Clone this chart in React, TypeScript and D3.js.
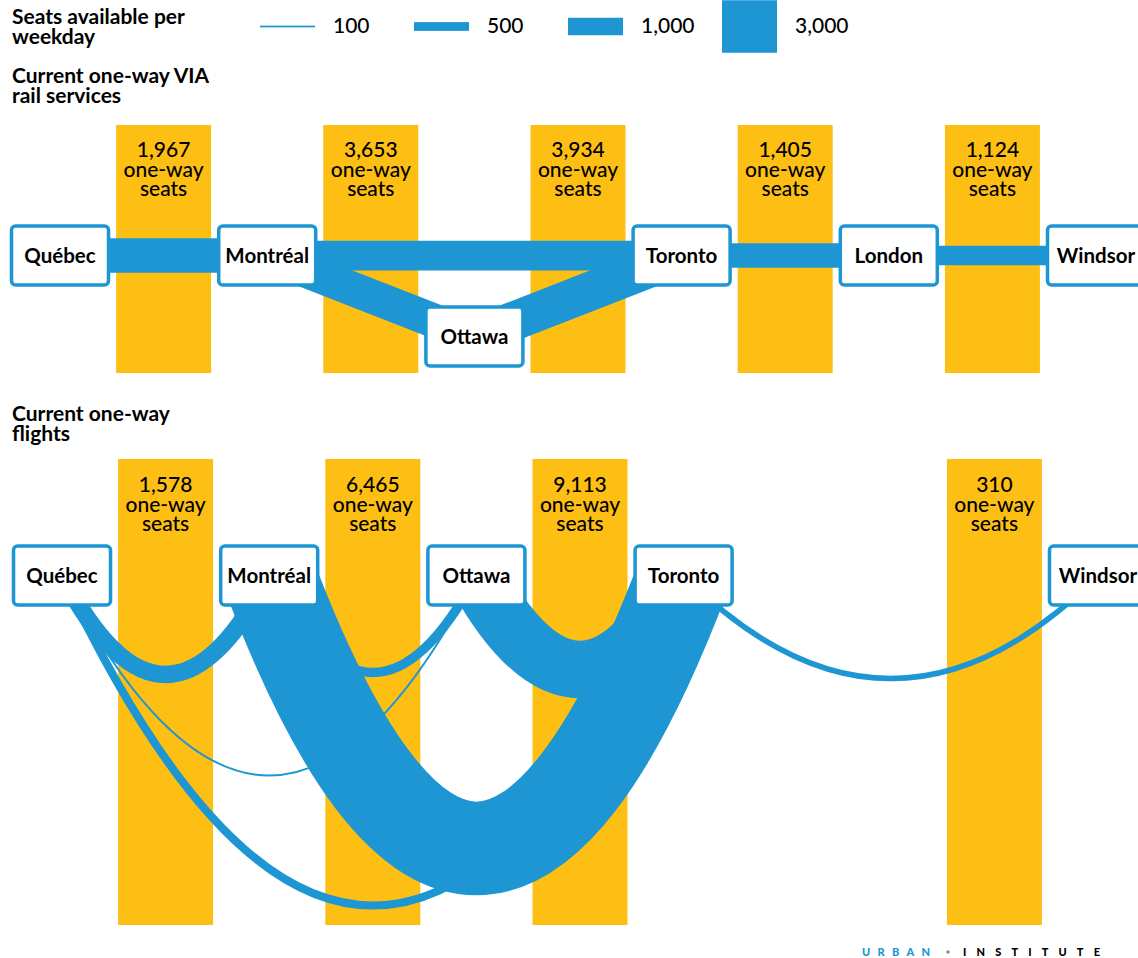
import React from "react";
import * as d3 from "d3";

// ---------- data ----------
const cities = ["Québec", "Montréal", "Ottawa", "Toronto", "London", "Windsor"];

const legendValues = [100, 500, 1000, 3000];
const legendLabels = ["100", "500", "1,000", "3,000"];

// one-way seats in each corridor gap (between consecutive cities)
const railGapSeats: (number | null)[] = [1967, 3653, 3934, 1405, 1124];
const flightGapSeats: (number | null)[] = [1578, 6465, 9113, null, 310];

// rail links
const railNodes = ["Québec", "Montréal", "Ottawa", "Toronto", "London", "Windsor"];
const railSources = ["Québec", "Montréal", "Montréal", "Ottawa", "Toronto", "London"];
const railTargets = ["Montréal", "Toronto", "Ottawa", "Toronto", "London", "Windsor"];
const railSeats = [1967, 1700, 1953, 2234, 1405, 1124];

// flight links
const flightNodes = ["Québec", "Montréal", "Ottawa", "Toronto", "Windsor"];
const flightSources = ["Québec", "Québec", "Québec", "Montréal", "Montréal", "Ottawa", "Toronto"];
const flightTargets = ["Montréal", "Ottawa", "Toronto", "Ottawa", "Toronto", "Toronto", "Windsor"];
const flightSeats = [1000, 108, 470, 540, 5347, 3296, 310];

// ---------- layout ----------
const W = 1138;
const H = 958;
const BLUE = "#1d96d3";
const YELLOW = "#fdbf14";
const FONT = "Lato, 'Open Sans', sans-serif";

const BOX_W = 97;
const BOX_H = 59;
const BAR_W = 95;

const RAIL_Y = 255.5;
const RAIL_LOW_Y = 336.5; // Ottawa sits below the rail line
const FLIGHT_Y = 575.5;

// arc sag (depth below node centre) for each flight link, layout only
const arcDepth: Record<string, number> = {
  "Québec-Montréal": 99,
  "Québec-Ottawa": 200,
  "Québec-Toronto": 330,
  "Montréal-Ottawa": 97,
  "Montréal-Toronto": 273,
  "Ottawa-Toronto": 94,
  "Toronto-Windsor": 103,
};

export default function App() {
  const xRail = d3.scalePoint<string>().domain(cities).range([60, 1096]);
  const xFlight = d3.scalePoint<string>().domain(cities).range([62, 1098]);
  const wScale = d3.scaleLinear().domain([0, 3000]).range([0, 52.5]);

  const railY = (c: string) => (c === "Ottawa" ? RAIL_LOW_Y : RAIL_Y);

  const gapCenters = (x: d3.ScalePoint<string>) =>
    d3.pairs(cities).map(([a, b]) => ((x(a) as number) + (x(b) as number)) / 2);

  const railGaps = gapCenters(xRail);
  const flightGaps = gapCenters(xFlight);

  const legendX = d3.scalePoint<number>().domain(legendValues).range([260, 722]);

  const fmt = d3.format(",");

  const renderBox = (cx: number, cy: number, label: string, key: string) => (
    <g key={key}>
      <rect
        x={cx - BOX_W / 2}
        y={cy - BOX_H / 2}
        width={BOX_W}
        height={BOX_H}
        rx={4}
        fill="#fff"
        stroke={BLUE}
        strokeWidth={3.5}
      />
      <text x={cx} y={cy + 7} textAnchor="middle" fontSize={20.5} fontWeight={700} fill="#000">
        {label}
      </text>
    </g>
  );

  const renderGapLabel = (cx: number, top: number, v: number, key: string) => (
    <text key={key} textAnchor="middle" fontSize={21} fontWeight={500} fill="#000">
      <tspan x={cx} y={top}>{fmt(v)}</tspan>
      <tspan x={cx} y={top + 19.5}>one-way</tspan>
      <tspan x={cx} y={top + 39}>seats</tspan>
    </text>
  );

  const flightPath = (s: string, t: string) => {
    const x1 = xFlight(s) as number;
    const x2 = xFlight(t) as number;
    const d = arcDepth[`${s}-${t}`];
    const p = d3.path();
    p.moveTo(x1, FLIGHT_Y);
    p.quadraticCurveTo((x1 + x2) / 2, FLIGHT_Y + 2 * d, x2, FLIGHT_Y);
    return p.toString();
  };

  return (
    <svg
      width={W}
      height={H}
      style={{ position: "absolute", left: 0, top: 0, background: "#fff" }}
      fontFamily={FONT}
    >
      {/* legend */}
      <text fontSize={21} fontWeight={700} fill="#000">
        <tspan x={12} y={24}>Seats available per</tspan>
        <tspan x={12} y={44}>weekday</tspan>
      </text>
      {legendValues.map((v, i) => {
        const x0 = legendX(v) as number;
        const h = wScale(v);
        return (
          <g key={`lg${v}`}>
            <rect x={x0} y={26.5 - h / 2} width={55} height={h} fill={BLUE} />
            <text x={x0 + 73} y={33} fontSize={21} fontWeight={500} fill="#000">
              {legendLabels[i]}
            </text>
          </g>
        );
      })}

      {/* rail section */}
      <text fontSize={21} fontWeight={700} fill="#000">
        <tspan x={12} y={83}>Current one-way VIA</tspan>
        <tspan x={12} y={103}>rail services</tspan>
      </text>
      {railGapSeats.map((v, i) =>
        v == null ? null : (
          <rect key={`rb${i}`} x={railGaps[i] - BAR_W / 2} y={125} width={BAR_W} height={248} fill={YELLOW} />
        )
      )}
      {railGapSeats.map((v, i) => (v == null ? null : renderGapLabel(railGaps[i], 157, v, `rl${i}`)))}
      {railSources.map((s, i) => {
        const t = railTargets[i];
        return (
          <line
            key={`rk${i}`}
            x1={xRail(s) as number}
            y1={railY(s)}
            x2={xRail(t) as number}
            y2={railY(t)}
            stroke={BLUE}
            strokeWidth={wScale(railSeats[i])}
          />
        );
      })}
      {railNodes.map((c) => renderBox(xRail(c) as number, railY(c), c, `rn${c}`))}

      {/* flights section */}
      <text fontSize={21} fontWeight={700} fill="#000">
        <tspan x={12} y={421}>Current one-way</tspan>
        <tspan x={12} y={441}>flights</tspan>
      </text>
      {flightGapSeats.map((v, i) =>
        v == null ? null : (
          <rect key={`fb${i}`} x={flightGaps[i] - BAR_W / 2} y={459} width={BAR_W} height={466} fill={YELLOW} />
        )
      )}
      {flightGapSeats.map((v, i) => (v == null ? null : renderGapLabel(flightGaps[i], 492, v, `fl${i}`)))}
      {flightSources.map((s, i) => (
        <path
          key={`fk${i}`}
          d={flightPath(s, flightTargets[i])}
          fill="none"
          stroke={BLUE}
          strokeWidth={wScale(flightSeats[i])}
        />
      ))}
      {flightNodes.map((c) => renderBox(xFlight(c) as number, FLIGHT_Y, c, `fn${c}`))}

      {/* logo */}
      <g fontSize={11} fontWeight={900}>
        <text x={862} y={956} fill={BLUE} textLength={68} lengthAdjust="spacing">URBAN</text>
        <circle cx={948} cy={952} r={1.7} fill="#888" />
        <text x={963} y={956} fill="#000" textLength={137} lengthAdjust="spacing">INSTITUTE</text>
      </g>
    </svg>
  );
}
